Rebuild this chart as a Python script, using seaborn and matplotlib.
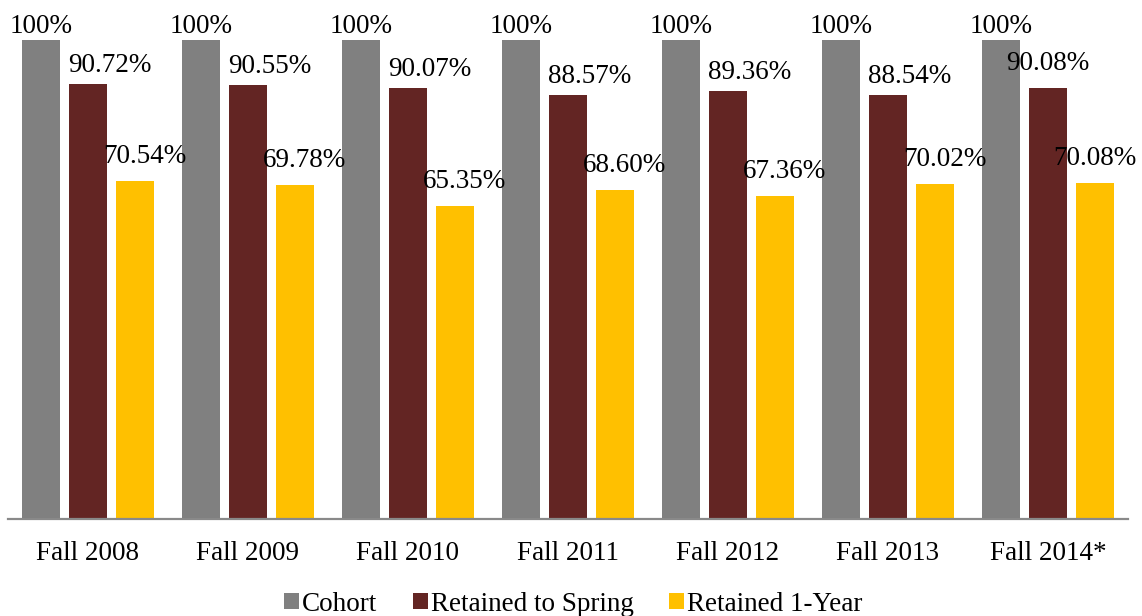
import pandas as pd
import matplotlib.pyplot as plt
import seaborn as sns

cohorts = ['Fall 2008', 'Fall 2009', 'Fall 2010', 'Fall 2011', 'Fall 2012', 'Fall 2013', 'Fall 2014*']
series = ['Cohort', 'Retained to Spring', 'Retained 1-Year']
cohort_pct = [100, 100, 100, 100, 100, 100, 100]
spring_pct = [90.72, 90.55, 90.07, 88.57, 89.36, 88.54, 90.08]
year_pct = [70.54, 69.78, 65.35, 68.60, 67.36, 70.02, 70.08]
labels = {
    'Cohort': ['100%'] * 7,
    'Retained to Spring': ['90.72%', '90.55%', '90.07%', '88.57%', '89.36%', '88.54%', '90.08%'],
    'Retained 1-Year': ['70.54%', '69.78%', '65.35%', '68.60%', '67.36%', '70.02%', '70.08%'],
}

df = pd.DataFrame({
    'cohort': cohorts * 3,
    'series': [s for s in series for _ in cohorts],
    'pct': cohort_pct + spring_pct + year_pct,
})

colors = ['#808080', '#632523', '#FFC000']

plt.rcParams['font.family'] = ['Liberation Serif', 'DejaVu Serif']

fig = plt.figure(figsize=(11.42, 6.16), dpi=100)
ax = fig.add_axes([8 / 1142, 97 / 616, 1120 / 1142, 479 / 616])

sns.barplot(data=df, x='cohort', y='pct', hue='series', hue_order=series,
            palette=colors, width=0.88, gap=0.19, saturation=1, ax=ax, legend=True)

ax.set_ylim(0, 100)
ax.set_xlim(-0.5, len(cohorts) - 0.5)
ax.set_xlabel('')
ax.set_ylabel('')
ax.set_yticks([])
for s in ['left', 'right', 'top']:
    ax.spines[s].set_visible(False)
ax.spines['bottom'].set_color('#898989')
ax.spines['bottom'].set_linewidth(1.6)
ax.tick_params(axis='x', length=0, pad=16, labelsize=19.5, colors='black')

# label placement (pixels): x shift and height above the bar
x_shift = {0: [0] * 7, 1: [22] * 6 + [0], 2: [10] * 6 + [0]}
y_shift = {0: [7] * 7, 1: [12] * 6 + [18], 2: [18] * 7}
for k, (cont, name) in enumerate(zip(ax.containers, series)):
    for i, bar in enumerate(cont):
        ax.annotate(labels[name][i], (bar.get_x() + bar.get_width() / 2, bar.get_height()),
                    xytext=(x_shift[k][i], y_shift[k][i]), textcoords='offset pixels',
                    ha='center', va='baseline', fontsize=19.5, annotation_clip=False)

handles, texts = ax.get_legend_handles_labels()
ax.get_legend().remove()
fig.legend(handles, texts, loc='lower center', bbox_to_anchor=(0.502, -0.019), ncol=3,
           frameon=False, fontsize=19.5, handlelength=0.55, handleheight=0.55,
           handletextpad=0.12, columnspacing=1.3, borderaxespad=0.0)

fig.savefig('out.png', dpi=100)
